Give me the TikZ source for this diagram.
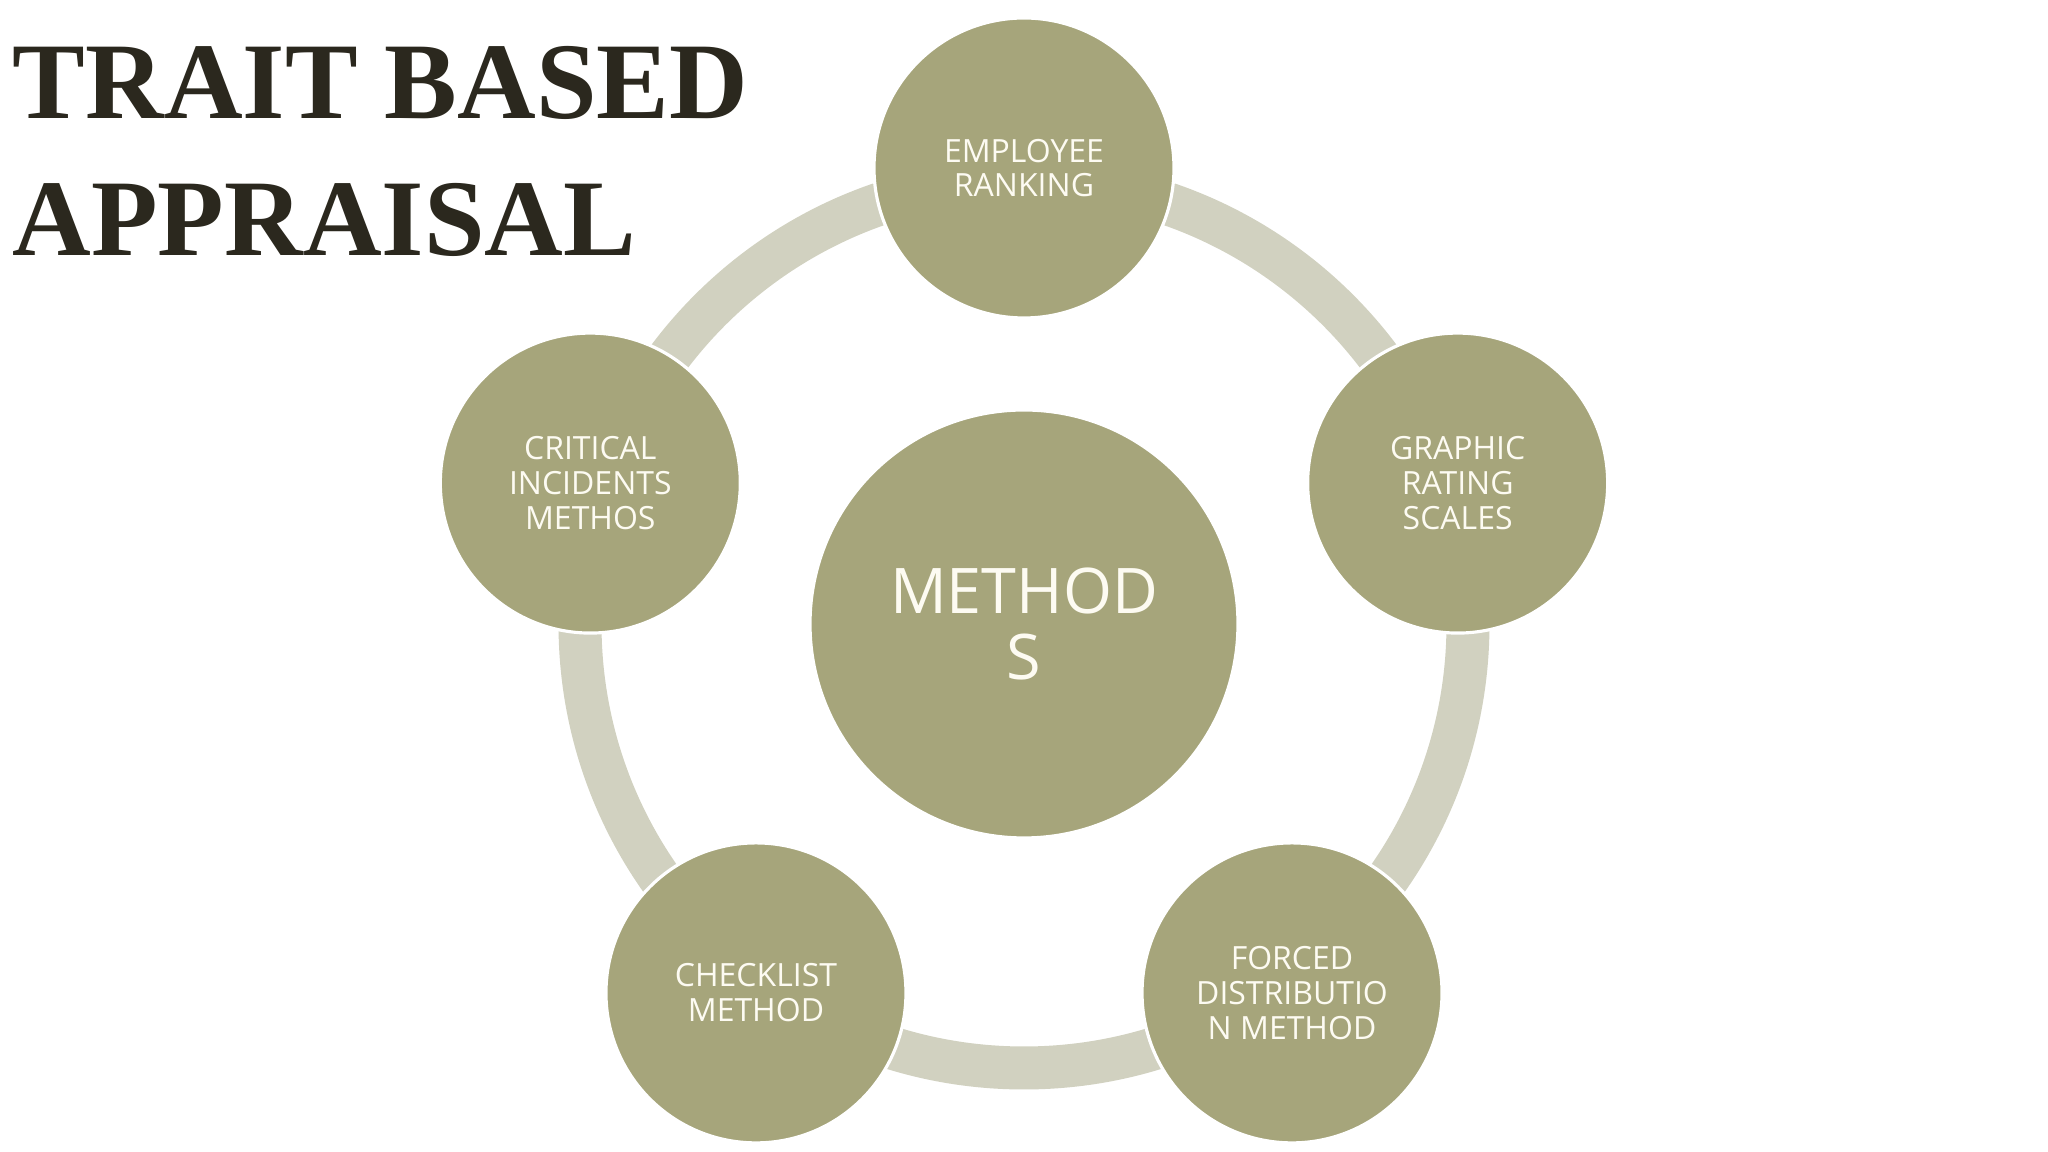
\documentclass[tikz,border=0pt]{standalone}
\usepackage{fontspec}
\setsansfont{Open Sans}
\newfontfamily\titlefont{Liberation Serif}
\usepackage{tikz}
\usetikzlibrary{calc,positioning}
\definecolor{apOlive}{RGB}{166,165,123}
\definecolor{apBand}{RGB}{209,209,192}
\definecolor{apCream}{RGB}{253,251,242}
\definecolor{apInk}{RGB}{43,40,30}
\tikzset{
  apHub/.style={circle, draw=white, line width=0.9pt, fill=apOlive,
    minimum size=4.28cm, inner sep=0pt, align=center, text=apCream,
    font=\sffamily\fontsize{17.9}{18.6}\selectfont},
  apItem/.style={circle, draw=white, line width=0.9pt, fill=apOlive,
    minimum size=3cm, inner sep=0pt, align=center, text=apCream,
    font=\sffamily\fontsize{9.1}{9.9}\selectfont},
  %% ring behind the outer circles
  apRing/.style={draw=apBand, line width=0.43cm},
  %% heading
  apTitle/.style={anchor=north west, inner sep=0pt, align=left, text=apInk,
    font=\titlefont\bfseries\fontsize{31}{38.9}\selectfont},
}
\begin{document}
\begin{tikzpicture}
\fill[white] (0,0) rectangle (20.48,11.52);
\useasboundingbox (0,0) rectangle (20.48,11.52);

\coordinate (ctr) at (10.24,5.28);
\draw[apRing] (ctr) circle (4.44);

\node[apHub]  (hub)     at (ctr) {METHOD\\S};
\node[apItem] (mEmp)    at ($(ctr)+(90:4.56)$)   {EMPLOYEE\\RANKING};
\node[apItem] (mGraph)  at ($(ctr)+(18:4.56)$)   {GRAPHIC\\RATING\\SCALES};
\node[apItem] (mForced) at ($(ctr)+(-54:4.56)$)  {FORCED\\DISTRIBUTIO\\N METHOD};
\node[apItem] (mCheck)  at ($(ctr)+(-126:4.56)$) {CHECKLIST\\METHOD};
\node[apItem] (mCrit)   at ($(ctr)+(162:4.56)$)  {CRITICAL\\INCIDENTS\\METHOS};

\node[apTitle] (title) at (0.12,11.06) {TRAIT BASED\\APPRAISAL};
\end{tikzpicture}
\end{document}
